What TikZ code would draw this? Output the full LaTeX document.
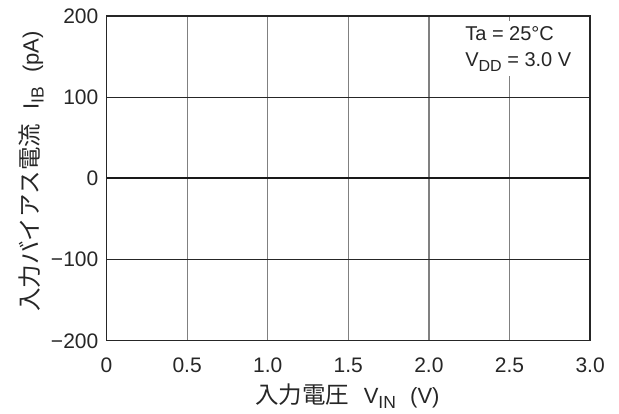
\documentclass[tikz,border=0pt]{standalone}
\usepackage{fontspec}
\setmainfont{Liberation Sans}
\newfontfamily\jpfont{Noto Sans CJK JP}
\usetikzlibrary{positioning}
\tikzstyle{grid v} = [draw=black!50, line width=1.2pt]
\tikzstyle{grid h} = [draw=black!85, line width=1pt]
\tikzstyle{frame} = [draw=black!85, line width=1.3pt]
\tikzstyle{curve} = [draw=black!90, line width=2.4pt]
\tikzstyle{tick} = [font=\fontsize{21}{24}\selectfont, text=black!85, inner sep=0pt]
\tikzstyle{axis label} = [font=\fontsize{22}{24}\selectfont, text=black!85, inner sep=0pt]
\tikzstyle{cond} = [fill=white, align=left, text=black!85, inner xsep=4pt, inner ysep=5pt,
                    font=\fontsize{20}{26}\selectfont]
\newcommand{\sub}[1]{\raisebox{-5pt}{\fontsize{16}{18}\selectfont #1}}
\newcommand{\bigsub}[1]{\raisebox{-5pt}{\fontsize{17.5}{18}\selectfont #1}}
\newcommand{\jp}[1]{{\jpfont\fontsize{23.5}{24}\selectfont #1}}

\begin{document}
\begin{tikzpicture}[x=1pt, y=1pt]
  \useasboundingbox (0,0) rectangle (619,-414);
  \begin{scope}[shift={(106.5,-178.3)}, x=161.2pt, y=0.811pt]
    % Grid
    \foreach \x in {0.5,1,1.5,2,2.5}
      \draw [grid v] (\x,-200) -- (\x,200);
    \foreach \y in {-100,100}
      \draw [grid h] (0,\y) -- (3,\y);
    % Conditions
    \node [cond, anchor=north west] (cond) at (2.2,194) {Ta = 25°C\\V\sub{DD} = 3.0 V};
    % Data
    \draw [curve] (0,0) -- (3,0);
    \draw [frame] (0,-200) rectangle (3,200);
    % Tick labels
    \foreach \x/\t [count=\i] in {0/0, 0.5/0.5, 1/1.0, 1.5/1.5, 2/2.0, 2.5/2.5, 3/3.0}
      \node [tick, anchor=base] (xtick\i) at (\x,-200) [yshift=-31.5pt] {\t};
    \foreach \y/\t [count=\i] in {-200/−200, -100/−100, 0/0, 100/100, 200/200}
      \node [tick, anchor=base east] (ytick\i) at (0,\y) [xshift=-8pt, yshift=-7.5pt] {\t};
  \end{scope}
  % Axis titles
  \node [axis label, anchor=base] (xlabel) at (347.5,-403)
    {\jp{入力電圧}\hspace{0.65em}V\bigsub{IN}\hspace{0.65em}(V)};
  \node [axis label, anchor=base, rotate=90] (ylabel) at (38.5,-171.5)
    {\jp{入力バイアス電流}\hspace{0.65em}I\bigsub{IB}\hspace{0.65em}(pA)};
\end{tikzpicture}
\end{document}
